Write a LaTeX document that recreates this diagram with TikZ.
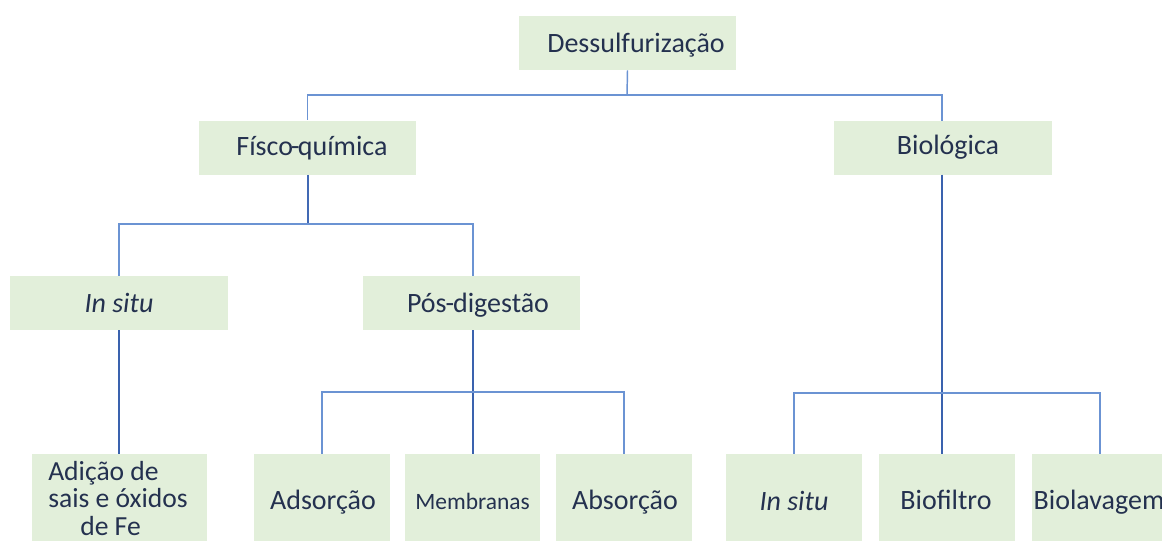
\documentclass[tikz,border=0pt]{standalone}
\usepackage{fontspec}
\setmainfont{Carlito}
\definecolor{boxfill}{HTML}{E2EFDA}
\definecolor{txtcol}{HTML}{24314F}
\definecolor{linelight}{HTML}{6B93D3}
\definecolor{linedark}{HTML}{3A62AE}
\begin{document}
\begin{tikzpicture}[x=0.75pt,y=-0.75pt,
  box/.style 2 args={draw=none,fill=boxfill,inner sep=0pt,minimum width=#1*0.75pt,minimum height=#2*0.75pt},
  txt/.style={anchor=base,inner sep=0pt,text=txtcol,font=\fontsize{21}{25}\selectfont},
  thinline/.style={draw=linelight,line width=1.1pt},
  thickline/.style={draw=linedark,line width=2pt}]
\useasboundingbox[fill=white] (0,0) rectangle (1162,540);
% boxes
\node[box={217}{54}] (des) at (627.5,43) {};
\node[box={217}{54}] (fq) at (307.5,147.5) {};
\node[box={218}{54}] (bio) at (943,147.5) {};
\node[box={218}{54}] (isa) at (119,303) {};
\node[box={217}{54}] (pos) at (471.5,303) {};
\node[box={175}{92}] (adi) at (119.5,500) {};
\node[box={136}{92}] (ads) at (322,500) {};
\node[box={135}{92}] (mem) at (472.5,500) {};
\node[box={136}{92}] (abs) at (624,500) {};
\node[box={136}{92}] (isb) at (794,500) {};
\node[box={136}{92}] (bif) at (947,500) {};
\node[box={136}{92}] (bil) at (1100,500) {};
% texts
\node[txt] (tdes) at (636,52) {Dessulfurização};
\node[txt] (tfq) at (312,155) {Físco\kern-1.4pt-\kern-1.4pt química};
\node[txt] (tbio) at (948,154) {Biológica};
\node[txt] (tisa) at (119,312) {\itshape In situ};
\node[txt] (tpos) at (478,312) {Pós\kern-0.8pt-\kern-0.8pt digestão};
\node[txt,anchor=north west,align=left,font=\fontsize{20.7}{20.6}\selectfont] (tadi) at (48,461)
  {Adição de\\sais e óxidos\\\hspace*{24pt}de Fe};
\node[txt] (tads) at (323,509) {Adsorção};
\node[txt,font=\fontsize{17.6}{20}\selectfont] (tmem) at (472.5,509) {Membranas};
\node[txt] (tabs) at (625,509) {Absorção};
\node[txt] (tisb) at (794,510) {\itshape In situ};
\node[txt] (tbif) at (946,509) {Biofiltro};
\node[txt] (tbil) at (1099,509) {Biolavagem};
% connectors level 1
\coordinate (j1) at (627,95);
\draw[thinline] (des.south) -- (j1);
\draw[thinline] (j1) -| (fq.north);
\draw[thinline] (j1) -| (942,120.5);
% Físco-química children
\coordinate (j2) at (307.5,224);
\draw[thinline,line width=1.5pt,draw=linedark!85!linelight] (fq.south) -- (j2);
\draw[thinline] (j2) -| (isa.north);
\draw[thinline] (j2) -| (473,276);
% In situ -> Adição
\draw[thickline] (isa.south) -- (adi.north -| isa.south);
% Pós-digestão children
\coordinate (j3) at (473,392);
\draw[thickline] (473,330) -- (473,454);
\draw[thinline] (j3) -| (ads.north);
\draw[thinline] (j3) -| (abs.north);
% Biológica children
\coordinate (j4) at (942,393);
\draw[thickline] (942,174.5) -- (942,454);
\draw[thinline] (j4) -| (isb.north);
\draw[thinline] (j4) -| (bil.north);
\end{tikzpicture}
\end{document}
